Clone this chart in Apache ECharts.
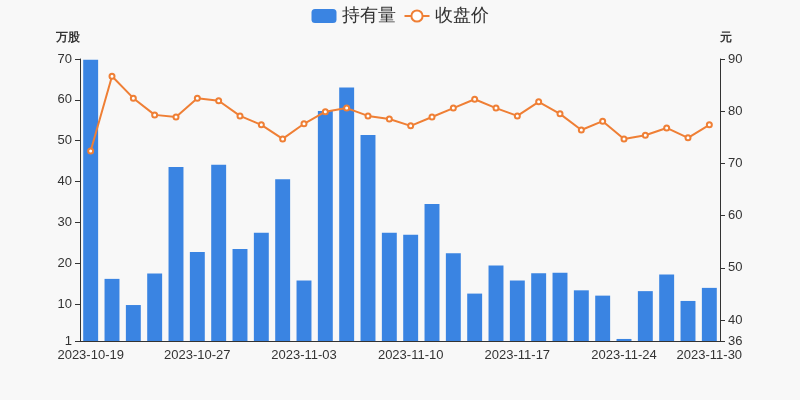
<!DOCTYPE html><html><head><meta charset="utf-8"><script src="https://cdn.jsdelivr.net/npm/echarts@6/dist/echarts.min.js"></script></head><body style="margin:0;background:#f8f8f8"><div id="c" style="width:800px;height:400px"></div><script>
const dates=["2023-10-19","2023-10-23","2023-10-24","2023-10-25","2023-10-26","2023-10-27","2023-10-30","2023-10-31","2023-11-01","2023-11-02","2023-11-03","2023-11-06","2023-11-07","2023-11-08","2023-11-09","2023-11-10","2023-11-13","2023-11-14","2023-11-15","2023-11-16","2023-11-17","2023-11-20","2023-11-21","2023-11-22","2023-11-23","2023-11-24","2023-11-27","2023-11-28","2023-11-29","2023-11-30"];
const holdings=[69.8,16.2,9.8,17.5,43.6,22.8,44.1,23.5,27.5,40.6,15.8,57.3,63,51.4,27.5,27,34.5,22.5,12.6,19.5,15.8,17.6,17.7,13.4,12.1,1.5,13.2,17.3,10.8,14];
const closes=[72.4,86.7,82.5,79.3,78.9,82.5,82,79.1,77.4,74.7,77.6,79.9,80.6,79.1,78.5,77.2,78.9,80.6,82.3,80.6,79.1,81.8,79.5,76.4,78.1,74.7,75.4,76.8,74.9,77.4];
const leftTicks=[1,10,20,30,40,50,60,70];
const rightTicks=[36,40,50,60,70,80,90];
const shown=[0,5,10,15,20,25,29];
const ax={color:'#333',fontSize:12};
echarts.init(document.getElementById('c')).setOption({
backgroundColor:'#f8f8f8',
legend:{top:2,left:'center',itemWidth:25,itemHeight:14,textStyle:{fontSize:18,color:'#333'},data:['持有量','收盘价']},
grid:{left:80,right:80,top:59,bottom:59},
xAxis:{type:'category',data:dates,axisTick:{show:false},axisLine:{lineStyle:{color:'#333'}},
 axisLabel:{...ax,fontSize:13,interval:(i)=>shown.includes(i)}},
yAxis:[{type:'value',min:1,max:70,name:'万股',nameTextStyle:{color:'#333',fontWeight:'bold',align:'right'},splitLine:{show:false},
 axisLine:{show:true,lineStyle:{color:'#333'}},axisTick:{show:true,customValues:leftTicks},axisLabel:{...ax,fontSize:13,customValues:leftTicks}},
 {type:'value',min:36,max:90,name:'元',nameTextStyle:{color:'#333',fontWeight:'bold',align:'left'},splitLine:{show:false},
 axisLine:{show:true,lineStyle:{color:'#333'}},axisTick:{show:true,customValues:rightTicks},axisLabel:{...ax,fontSize:13,customValues:rightTicks}}],
series:[{name:'持有量',type:'bar',data:holdings,barWidth:'70%',itemStyle:{color:'#3a84e2'}},
 {name:'收盘价',type:'line',yAxisIndex:1,data:closes,symbol:'circle',symbolSize:5,itemStyle:{color:'#ef7f35',borderColor:'#ef7f35'},symbol:'emptyCircle',lineStyle:{color:'#ef7f35',width:2}}]
});
</script></body></html>
